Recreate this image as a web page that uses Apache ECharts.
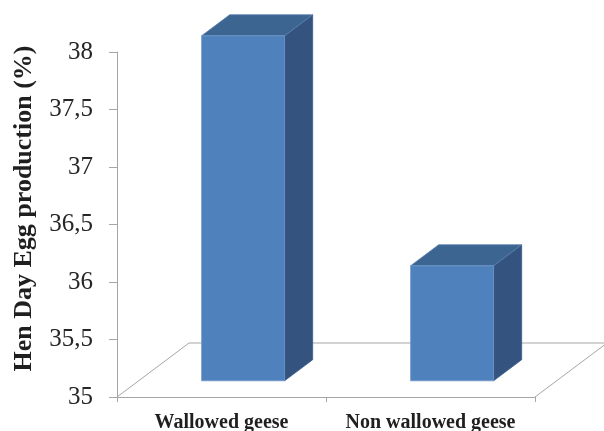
<!DOCTYPE html>
<html>
<head>
<meta charset="utf-8">
<script src="https://cdn.jsdelivr.net/npm/echarts@6/dist/echarts.min.js"></script>
<style>
  html, body { margin: 0; padding: 0; background: #ffffff; }
  #chart { width: 604px; height: 431px; }
</style>
</head>
<body>
<div id="chart"></div>
<script>
// Hen day egg production by group
var categories = ['Wallowed geese', 'Non wallowed geese'];
var eggProduction = [38, 36];
var axisMin = 35;
var axisMax = 38;
var axisStep = 0.5;

// oblique 3D look: floor depth and where the boxes sit inside it
var FLOOR_DX = 72, FLOOR_DY = 54;
var BAR_FRONT = 0.3;   // fraction of floor depth in front of each box
var BAR_DEPTH = 0.39;  // box depth as a fraction of floor depth
var BAR_RATIO = 0.397; // box width as a fraction of the category band

var FRONT = '#4f81bd', SIDE = '#34547f', TOP = '#3d6592';
var LINE = '#a6a6a6';
var SERIF = 'Liberation Serif';

function renderFloor(params, api) {
  var cs = params.coordSys;
  var x0 = cs.x, x1 = cs.x + cs.width, yb = api.coord([0, axisMin])[1];
  return {
    type: 'polyline',
    shape: { points: [[x0, yb], [x0 + FLOOR_DX, yb - FLOOR_DY], [x1 + FLOOR_DX, yb - FLOOR_DY], [x1, yb]] },
    style: { stroke: LINE, lineWidth: 1, fill: null }
  };
}

function renderBox(params, api) {
  var i = api.value(0), v = api.value(1);
  var top = api.coord([i, v]);
  var base = api.coord([i, axisMin]);
  var band = api.size([1, 0])[0];
  var w = band * BAR_RATIO;
  var ox = FLOOR_DX * BAR_FRONT, oy = -FLOOR_DY * BAR_FRONT;
  var dx = FLOOR_DX * BAR_DEPTH, dy = -FLOOR_DY * BAR_DEPTH;
  var xl = top[0] - w / 2 + ox, xr = xl + w;
  var yt = top[1] + oy, yb = base[1] + oy;
  return {
    type: 'group',
    children: [
      { type: 'polygon', shape: { points: [[xr, yt], [xr + dx, yt + dy], [xr + dx, yb + dy], [xr, yb]] },
        style: { fill: SIDE, stroke: '#3a5d8c', lineWidth: 0.8 } },
      { type: 'polygon', shape: { points: [[xl, yt], [xr, yt], [xr + dx, yt + dy], [xl + dx, yt + dy]] },
        style: { fill: TOP, stroke: '#5a80b3', lineWidth: 0.8 } },
      { type: 'rect', shape: { x: xl, y: yt, width: w, height: yb - yt },
        style: { fill: FRONT, stroke: '#6d95c9', lineWidth: 0.8 } }
    ]
  };
}

var chart = echarts.init(document.getElementById('chart'), null, { renderer: 'canvas' });
chart.setOption({
  animation: false,
  backgroundColor: '#ffffff',
  grid: { left: 117, right: 69, top: 52, bottom: 34, containLabel: false, outerBoundsMode: 'none' },
  xAxis: {
    type: 'category',
    data: categories,
    boundaryGap: true,
    axisLine: { show: true, lineStyle: { color: LINE, width: 1 } },
    axisTick: { show: true, length: 5, lineStyle: { color: LINE } },
    axisLabel: {
      interval: 0,
      hideOverlap: false,
      margin: 16,
      color: '#1f1f1f',
      fontFamily: SERIF,
      fontWeight: 'bold',
      fontSize: 20
    },
    splitLine: { show: false }
  },
  yAxis: {
    type: 'value',
    min: axisMin,
    max: axisMax,
    interval: axisStep,
    name: 'Hen Day Egg production (%)',
    nameLocation: 'middle',
    nameRotate: 90,
    nameGap: 80,
    nameTextStyle: {
      color: '#1f1f1f',
      fontFamily: SERIF,
      fontWeight: 'bold',
      fontSize: 26,
      padding: [0, 0, 0, 32]
    },
    axisLine: { show: true, lineStyle: { color: LINE, width: 1 } },
    axisTick: { show: true, length: 8, lineStyle: { color: LINE } },
    axisLabel: {
      margin: 24,
      color: '#262626',
      fontFamily: SERIF,
      fontSize: 25,
      formatter: function (v) { return String(v).replace('.', ','); }
    },
    splitLine: { show: false }
  },
  series: [
    {
      type: 'custom',
      renderItem: renderFloor,
      clip: false,
      silent: true,
      data: [[0, axisMin]],
      encode: { x: 0, y: 1 },
      z: 1
    },
    {
      type: 'custom',
      renderItem: renderBox,
      clip: false,
      data: categories.map(function (c, k) { return [k, eggProduction[k]]; }),
      encode: { x: 0, y: 1 },
      z: 2
    }
  ]
});
</script>
</body>
</html>
